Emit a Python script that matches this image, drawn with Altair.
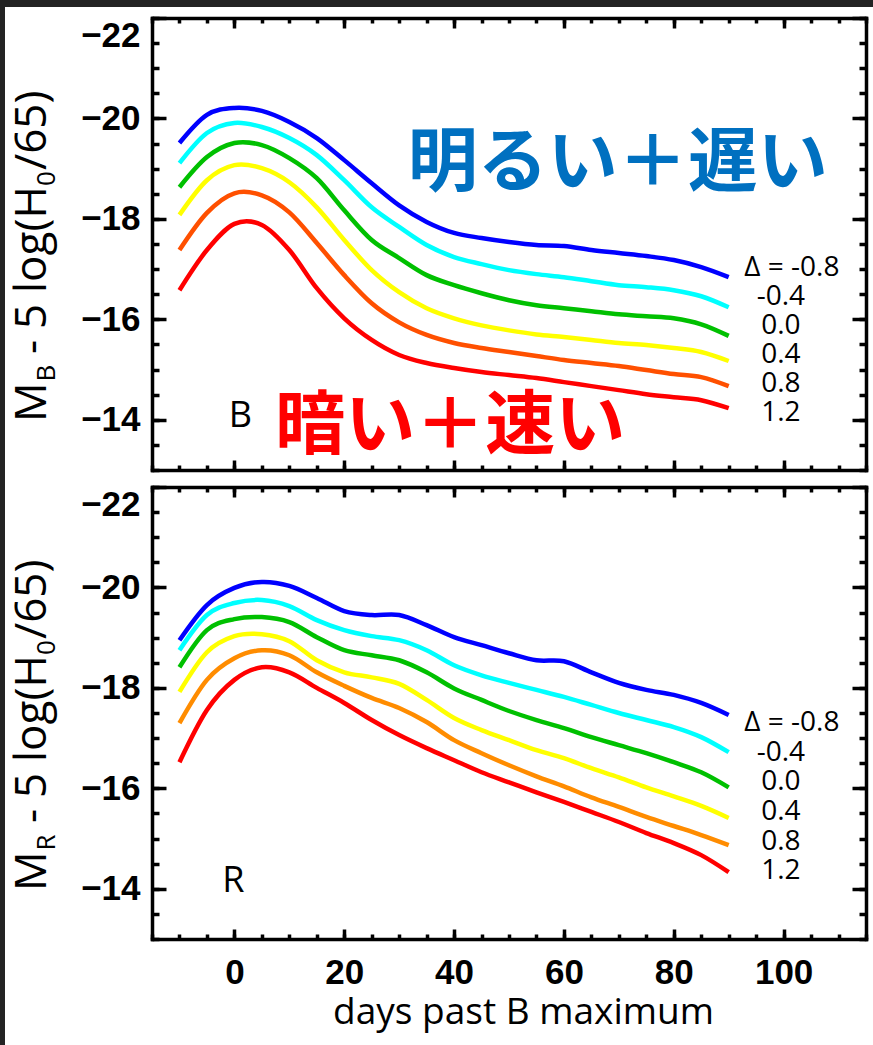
import altair as alt
import pandas as pd

# Template light curves: absolute magnitude vs. days past B maximum, one per decline-rate Δ
days = [-10, -5, 0, 5, 10, 15, 20, 25, 30, 35, 40, 45, 50, 55, 60, 65, 70, 75, 80, 85, 90]
deltas = ["-0.8", "-0.4", "0.0", "0.4", "0.8", "1.2"]

b_band = {
    "-0.8": [-19.51, -20.07, -20.21, -20.15, -19.93, -19.61, -19.17, -18.71, -18.27, -17.94, -17.72,
             -17.62, -17.54, -17.48, -17.46, -17.38, -17.32, -17.26, -17.18, -17.04, -16.84],
    "-0.4": [-19.11, -19.71, -19.91, -19.83, -19.61, -19.27, -18.77, -18.23, -17.84, -17.48, -17.24,
             -17.10, -16.98, -16.90, -16.84, -16.76, -16.68, -16.64, -16.58, -16.46, -16.24],
    "0.0": [-18.63, -19.23, -19.51, -19.47, -19.21, -18.81, -18.17, -17.58, -17.22, -16.88, -16.68,
            -16.52, -16.38, -16.28, -16.22, -16.16, -16.10, -16.06, -16.02, -15.90, -15.67],
    "0.4": [-18.08, -18.77, -19.07, -19.01, -18.73, -18.23, -17.58, -16.98, -16.54, -16.22, -16.02,
            -15.88, -15.78, -15.70, -15.65, -15.59, -15.53, -15.49, -15.43, -15.35, -15.17],
    "0.8": [-17.38, -18.12, -18.51, -18.47, -18.13, -17.52, -16.88, -16.32, -15.94, -15.69, -15.53,
            -15.43, -15.35, -15.27, -15.19, -15.13, -15.07, -14.99, -14.91, -14.85, -14.67],
    "1.2": [-16.58, -17.38, -17.90, -17.88, -17.38, -16.62, -16.02, -15.59, -15.29, -15.13, -15.03,
            -14.95, -14.89, -14.83, -14.75, -14.67, -14.59, -14.51, -14.45, -14.39, -14.23],
}

r_band = {
    "-0.8": [-18.95, -19.65, -19.99, -20.11, -20.03, -19.79, -19.53, -19.45, -19.45, -19.25, -19.01,
             -18.85, -18.69, -18.55, -18.53, -18.31, -18.10, -17.96, -17.86, -17.70, -17.46],
    "-0.4": [-18.75, -19.45, -19.69, -19.75, -19.63, -19.35, -19.15, -19.03, -18.95, -18.75, -18.45,
             -18.25, -18.10, -17.96, -17.82, -17.66, -17.50, -17.36, -17.22, -17.02, -16.72],
    "0.0": [-18.41, -19.15, -19.37, -19.41, -19.31, -19.01, -18.75, -18.65, -18.55, -18.31, -17.99,
            -17.76, -17.54, -17.36, -17.20, -17.02, -16.86, -16.70, -16.52, -16.32, -16.02],
    "0.4": [-17.92, -18.71, -19.03, -19.07, -18.93, -18.55, -18.31, -18.21, -18.08, -17.76, -17.40,
            -17.16, -16.96, -16.76, -16.60, -16.40, -16.22, -16.02, -15.84, -15.65, -15.41],
    "0.8": [-17.30, -18.16, -18.59, -18.75, -18.65, -18.31, -18.04, -17.80, -17.60, -17.32, -16.96,
            -16.70, -16.46, -16.24, -16.04, -15.82, -15.63, -15.43, -15.25, -15.07, -14.87],
    "1.2": [-16.52, -17.56, -18.16, -18.41, -18.31, -18.00, -17.70, -17.36, -17.06, -16.80, -16.56,
            -16.32, -16.12, -15.92, -15.73, -15.53, -15.33, -15.11, -14.91, -14.67, -14.33],
}

b_colors = ["#0000ff", "#00ffff", "#00c000", "#ffff00", "#ff5000", "#ff0000"]
r_colors = ["#0000ff", "#00ffff", "#00c000", "#ffff00", "#ff8c00", "#ff0000"]
legend_labels = ["Δ = -0.8", "-0.4", "0.0", "0.4", "0.8", "1.2"]

y_major = [-22, -20, -18, -16, -14]
y_minor = [-22 + 0.5 * i for i in range(19)]
x_major = [0, 20, 40, 60, 80, 100]
x_minor = [-15 + 5 * i for i in range(27)]

W, H = 714, 452
TEXT_FONT = "Open Sans"
NUM_FONT = "Liberation Sans"
xs = alt.Scale(domain=[-15, 115], nice=False, zero=False)
ys = alt.Scale(domain=[-22, -13], nice=False, zero=False, reverse=True)


def curve_frame(curves, colors):
    rows = []
    for k, (delta, col) in enumerate(zip(deltas, colors)):
        for d, m in zip(days, curves[delta]):
            rows.append({"day": d, "mag": m, "delta": delta, "color": col, "k": k})
    return pd.DataFrame(rows)


def tick_axis(orient, values, size, domain):
    return alt.Axis(
        orient=orient, offset=-(H if orient in ("top", "bottom") else W),
        values=values, tickSize=size, tickWidth=3.5, tickColor="black",
        labels=False, domain=domain, domainColor="black", domainWidth=3.5,
        domainCap="square", grid=False, title=None,
    )


def tick_layer(y_orient, x_orient, y_vals, x_vals, y_size, x_size, domain):
    anchor = pd.DataFrame({"day": [0], "mag": [-18]})
    return alt.Chart(anchor).mark_point(opacity=0).encode(
        x=alt.X("day:Q", scale=xs, axis=tick_axis(x_orient, x_vals, x_size, domain)),
        y=alt.Y("mag:Q", scale=ys, axis=tick_axis(y_orient, y_vals, y_size, domain)),
    )


def text_layer(df, **style):
    return alt.Chart(df).mark_text(**style).encode(
        x=alt.X("day:Q", scale=xs, axis=None),
        y=alt.Y("mag:Q", scale=ys, axis=None),
        text="t:N",
    )


def y_title(sub_letter):
    # rotated "M_X - 5 log(H_0/65)": main-size pieces and lowered subscripts,
    # each placed at its distance along the reading direction
    base_x, base_y, main, sub, shift = -106, 404, 44, 26, 9
    pieces = [("M", main, 0, 0), (sub_letter, sub, 40.5, shift), ("-", main, 68, 0),
              ("5", main, 93, 0), ("log(H", main, 129, 0), ("0", sub, 236, shift),
              ("/65)", main, 252, 0)]
    df = pd.DataFrame([{"t": t, "fs": fs, "px": base_x + sh, "py": base_y - off}
                       for t, fs, off, sh in pieces])
    return alt.Chart(df).mark_text(angle=270, align="left", baseline="alphabetic",
                                   font=TEXT_FONT, color="black").encode(
        x=alt.X("px:Q", scale=None, axis=None),
        y=alt.Y("py:Q", scale=None, axis=None),
        size=alt.Size("fs:Q", scale=None, legend=None),
        text="t:N",
    )


def panel(curves, colors, letter, letter_at, lab_start, lab_step, bottom):
    df = curve_frame(curves, colors)
    y_axis = alt.Axis(orient="left", values=y_major, labelExpr="'\u2212' + abs(datum.value)",
                      labelFont=NUM_FONT, labelFontWeight="bold", labelFontSize=35,
                      labelColor="black", labelPadding=12, labelFlush=True,
                      ticks=False, domain=False, grid=False, title=None)
    if bottom:
        x_axis = alt.Axis(orient="bottom", values=x_major, labelFont=NUM_FONT,
                          labelFontWeight="bold", labelFontSize=35, labelColor="black",
                          labelPadding=16, ticks=False, domain=False, grid=False,
                          title="days past B maximum", titleFont=TEXT_FONT, titleFontSize=37,
                          titleFontWeight="normal", titleColor="black", titlePadding=4,
                          titleX=371)
    else:
        x_axis = None

    lines = alt.Chart(df).mark_line(strokeWidth=4.5, interpolate="cardinal").encode(
        x=alt.X("day:Q", scale=xs, axis=x_axis),
        y=alt.Y("mag:Q", scale=ys, axis=y_axis),
        color=alt.Color("color:N", scale=None, legend=None),
        detail="delta:N",
        order="k:Q",
    )

    lab_df = pd.DataFrame({
        "t": legend_labels,
        "day": [101.5 if i == 0 else 99.5 for i in range(len(legend_labels))],
        "mag": [lab_start + lab_step * i for i in range(len(legend_labels))],
    })
    labels = text_layer(lab_df, font=TEXT_FONT, fontSize=28, color="black",
                        align="center", baseline="middle")

    band_df = pd.DataFrame({"t": [letter], "day": [letter_at[0]], "mag": [letter_at[1]]})
    band_text = text_layer(band_df, font=TEXT_FONT, fontSize=36, color="black",
                           align="center", baseline="middle")

    return [lines, labels, band_text, y_title(letter),
            tick_layer("right", "top", y_major, x_major, 14, 10, True),
            tick_layer("right", "top", y_minor, x_minor, 7, 5, False),
            tick_layer("left", "bottom", y_major, x_major, 14, 10, True),
            tick_layer("left", "bottom", y_minor, x_minor, 7, 5, False)]


top_layers = panel(b_band, b_colors, "B", (1.1, -14.07), -17.02, 0.578, False)
jp_style = dict(font="Noto Sans CJK JP", fontWeight="bold", fontSize=70,
                align="center", baseline="middle")
top_layers.append(text_layer(pd.DataFrame({"t": ["明るい＋遅い"], "day": [69.8], "mag": [-19.07]}),
                             color="#0070c0", **jp_style))
top_layers.append(text_layer(pd.DataFrame({"t": ["暗い＋速い"], "day": [39.3], "mag": [-13.83]}),
                             color="#ff0000", **jp_style))

# dark strip along the top and left edges of the page
edge = pd.DataFrame({"a": [0]})
top_layers.append(alt.Chart(edge).mark_rect(color="#232323").encode(
    x=alt.value(-152), x2=alt.value(721), y=alt.value(-18), y2=alt.value(-11)))
top_layers.append(alt.Chart(edge).mark_rect(color="#232323").encode(
    x=alt.value(-152), x2=alt.value(-147), y=alt.value(-18), y2=alt.value(1027)))

top = alt.layer(*top_layers).resolve_axis(x="independent", y="independent").properties(
    width=W, height=H)

bottom_layers = panel(r_band, r_colors, "R", (-0.2, -14.15), -17.30, 0.59, True)
bottom = alt.layer(*bottom_layers).resolve_axis(x="independent", y="independent").properties(
    width=W, height=H)

chart = alt.vconcat(top, bottom, spacing=17, bounds="flush").properties(
    padding=0, background="white").configure_view(stroke=None)

chart.save("out.html", embed_options={"renderer": "svg", "actions": False})
